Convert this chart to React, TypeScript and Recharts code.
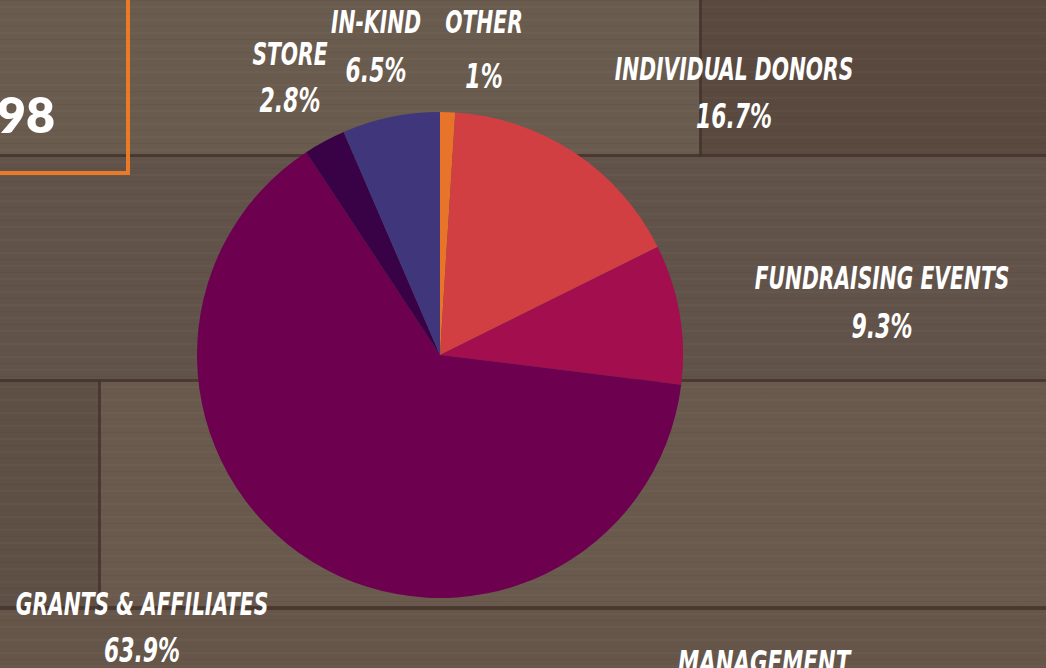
import { PieChart, Pie, Cell } from 'recharts';

const categories = ['OTHER', 'INDIVIDUAL DONORS', 'FUNDRAISING EVENTS', 'GRANTS & AFFILIATES', 'STORE', 'IN-KIND'];
const shares = [1, 16.7, 9.3, 63.9, 2.8, 6.5];
const shareLabels = ['1%', '16.7%', '9.3%', '63.9%', '2.8%', '6.5%'];
const sliceColors = ['#e8742a', '#d13f43', '#a30e4e', '#6e0050', '#3a0246', '#3f367c'];

const data = categories.map((name, i) => ({ name, value: shares[i], pct: shareLabels[i] }));

// label anchor points: centre x, baseline of name line and of value line
const labelLayout = [
  { x: 484, y1: 33, y2: 88 },
  { x: 734, y1: 80, y2: 128 },
  { x: 882, y1: 289, y2: 338 },
  { x: 142, y1: 615, y2: 662 },
  { x: 290, y1: 65, y2: 112 },
  { x: 376, y1: 33, y2: 82 },
];

const labelFont = '"Liberation Sans Narrow", "DejaVu Sans Condensed", "Roboto", sans-serif';
const nameSqueeze = 0.705;
const pctSqueeze = 0.74;

const renderLabel = (props: any) => {
  const l = labelLayout[props.index];
  if (!l) return null;
  return (
    <g>
      <text transform={`translate(${l.x},${l.y1}) scale(${nameSqueeze},1)`} textAnchor="middle" fill="#ffffff"
        fontFamily={labelFont} fontWeight={700} fontStyle="italic" fontSize={32}>
        {props.payload.name}
      </text>
      <text transform={`translate(${l.x},${l.y2}) scale(${pctSqueeze},1)`} textAnchor="middle" fill="#ffffff"
        fontFamily={labelFont} fontWeight={700} fontStyle="italic" fontSize={33}>
        {props.payload.pct}
      </text>
    </g>
  );
};

const grain = 'repeating-linear-gradient(180deg, rgba(40,25,15,0.06) 0px, rgba(40,25,15,0.06) 1px, transparent 1px, transparent 6px, rgba(255,240,220,0.025) 6px, rgba(255,240,220,0.025) 8px, transparent 8px, transparent 13px)';

const Plank = ({ left, top, width, height, color }: any) => (
  <div style={{ position: 'absolute', left, top, width, height, background: `${grain}, ${color}` }} />
);

const Seam = ({ left, top, width, height }: any) => (
  <div style={{ position: 'absolute', left, top, width, height, background: '#42322a', opacity: 0.8 }} />
);

const App = () => {
  return (
    <div style={{ position: 'absolute', left: 0, top: 0, width: 1046, height: 668, overflow: 'hidden', background: '#655549' }}>
      <Plank left={0} top={0} width={700} height={155} color="#6a5b4f" />
      <Plank left={700} top={0} width={346} height={155} color="#59493f" />
      <Plank left={0} top={155} width={1046} height={225} color="#62534a" />
      <Plank left={0} top={380} width={100} height={227} color="#5f5046" />
      <Plank left={100} top={380} width={946} height={227} color="#6a5a4e" />
      <Plank left={0} top={607} width={1046} height={61} color="#66564a" />
      <Seam left={0} top={154} width={1046} height={3} />
      <Seam left={699} top={0} width={3} height={156} />
      <Seam left={0} top={379} width={1046} height={3} />
      <Seam left={98} top={380} width={3} height={228} />
      <Seam left={0} top={606} width={1046} height={4} />

      <div style={{ position: 'absolute', left: -10, top: -10, width: 132, height: 177, border: '4px solid #e87a28', boxSizing: 'content-box' }} />
      <div style={{ position: 'absolute', left: -62, top: 84, width: 117, textAlign: 'right', color: '#ffffff', fontFamily: 'Lato, "Open Sans", sans-serif', fontWeight: 800, fontSize: 50, lineHeight: '60px' }}>
        598
      </div>

      <div style={{ position: 'absolute', left: 0, top: 0 }}>
        <PieChart width={1046} height={668} margin={{ top: 0, right: 0, bottom: 0, left: 0 }}>
          <Pie
            data={data}
            dataKey="value"
            nameKey="name"
            cx={440}
            cy={355}
            outerRadius={243}
            startAngle={90}
            endAngle={-270}
            stroke="none"
            labelLine={false}
            label={renderLabel}
            isAnimationActive={false}
          >
            {data.map((entry, index) => (
              <Cell key={`cell-${index}`} fill={sliceColors[index]} />
            ))}
          </Pie>
        </PieChart>
      </div>

      <div style={{ position: 'absolute', left: 678, top: 646, width: 172, color: '#ffffff', fontFamily: labelFont, fontWeight: 700, fontStyle: 'italic', fontSize: 32, lineHeight: '32px', whiteSpace: 'nowrap', transform: 'scaleX(0.74)', transformOrigin: 'left top' }}>
        MANAGEMENT
      </div>
    </div>
  );
};

export default App;
